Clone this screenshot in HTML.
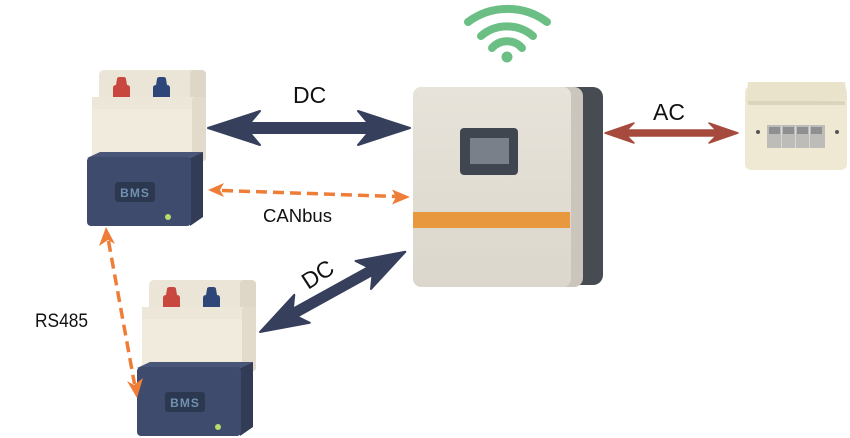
<!DOCTYPE html>
<html><head><meta charset="utf-8"><style>
html,body{margin:0;padding:0;background:#fff;}
svg{display:block;}
text{font-family:"Liberation Sans",sans-serif;}
</style></head><body>
<svg width="850" height="438" viewBox="0 0 850 438" xmlns="http://www.w3.org/2000/svg">
<defs>
  <linearGradient id="inv" x1="0" y1="0" x2="0" y2="1">
    <stop offset="0" stop-color="#e7e3da"/><stop offset="1" stop-color="#dcd7cc"/>
  </linearGradient>
  <g id="batt">
    <!-- top back block -->
    <rect x="99" y="70" width="107" height="34" rx="5" fill="#ebe5d7"/>
    <rect x="190" y="70" width="16" height="34" rx="4" fill="#ded7c8"/>
    <!-- terminals -->
    <path d="M113,97 L113,88 Q113,85 116,85 L117,79 Q117,77 120,77 L123,77 Q126,77 126,79 L127,85 Q130,85 130,88 L130,97 Z" fill="#c8473e"/>
    <path d="M153,97 L153,88 Q153,85 156,85 L157,79 Q157,77 160,77 L163,77 Q166,77 166,79 L167,85 Q170,85 170,88 L170,97 Z" fill="#2f4778"/>
    <!-- cream middle -->
    <rect x="92" y="97" width="114" height="64" rx="4" fill="#f1ebde"/>
    <rect x="192" y="97" width="14" height="64" rx="3" fill="#e2dbcc"/>
    <rect x="92" y="97" width="100" height="12" fill="#ede7d9"/>
    <!-- BMS block -->
    <polygon points="87,158 100,152 203,152 190,158" fill="#4a5677"/>
    <polygon points="190,158 203,152 203,217 190,226" fill="#323c57"/>
    <rect x="87" y="157" width="104" height="69" rx="4" fill="#3f4b6c"/>
    <rect x="115" y="182" width="40" height="20" rx="3" fill="#2c3750"/>
    <text x="135" y="197" text-anchor="middle" font-size="12" font-weight="bold" fill="#7091b0" letter-spacing="1">BMS</text>
    <circle cx="168" cy="217" r="3" fill="#b9da6c"/>
  </g>
</defs>

<!-- batteries -->
<use href="#batt"/>
<use href="#batt" transform="translate(50,210)"/>

<!-- wifi -->
<g fill="none" stroke="#6cbf84" stroke-width="8" stroke-linecap="round">
  <path d="M468,22 A66,66 0 0,1 547,22"/>
  <path d="M481,36 A40,40 0 0,1 533,36"/>
  <path d="M492,48 A20,20 0 0,1 522,48"/>
</g>
<circle cx="507" cy="57" r="5.5" fill="#6cbf84"/>

<!-- inverter -->
<rect x="560" y="87" width="43" height="198" rx="10" fill="#474c53"/>
<rect x="413" y="87" width="170" height="200" rx="9" fill="#cbc6bb"/>
<rect x="413" y="87" width="158" height="200" rx="8" fill="url(#inv)"/>
<rect x="460" y="128" width="58" height="47" rx="4" fill="#40464f"/>
<rect x="470" y="138" width="39" height="26" fill="#7a8089"/>
<rect x="413" y="212" width="157" height="16" fill="#e8983e"/>

<!-- breaker box -->
<rect x="745" y="86" width="102" height="84" rx="6" fill="#efe9d4"/>
<path d="M748,82 L845,82 L847,100 L746,103 Z" fill="#e9e3cb"/>
<rect x="748" y="101" width="97" height="4" fill="#dcd5bd"/>
<rect x="767" y="125" width="58" height="23" fill="#bdbcb8"/>
<g fill="#8f8f91">
  <rect x="769" y="127" width="11" height="7"/>
  <rect x="783" y="127" width="11" height="7"/>
  <rect x="797" y="127" width="11" height="7"/>
  <rect x="811" y="127" width="11" height="7"/>
</g>
<g stroke="#d8d7d2" stroke-width="1">
  <line x1="781.5" y1="125" x2="781.5" y2="148"/>
  <line x1="795.5" y1="125" x2="795.5" y2="148"/>
  <line x1="809.5" y1="125" x2="809.5" y2="148"/>
</g>
<circle cx="758" cy="132" r="2" fill="#555"/>
<circle cx="837" cy="132" r="2" fill="#555"/>

<!-- DC top arrow -->
<polygon points="208,128 260,111 250,123 368,123 358,111 410,128 358,145 368,133 250,133 260,145" fill="#363f5c" stroke="#363f5c" stroke-width="2" stroke-linejoin="round"/>
<text x="293" y="103" font-size="23" fill="#111">DC</text>

<!-- AC arrow -->
<polygon points="605,133 634,123 627,130 716,130 709,123 738,133 709,143 716,136 627,136 634,143" fill="#a64a3e" stroke="#a64a3e" stroke-width="1.5" stroke-linejoin="round"/>
<text x="653" y="120" font-size="23" fill="#111">AC</text>

<!-- diagonal DC arrow -->
<g transform="translate(260,332) rotate(-28.9)">
  <polygon points="0,0 48,-16 40,-4.5 126,-4.5 118,-16 166,0 118,16 126,4.5 40,4.5 48,16" fill="#363f5c" stroke="#363f5c" stroke-width="2" stroke-linejoin="round"/>
</g>
<text x="0" y="0" font-size="23" fill="#111" text-anchor="middle" transform="translate(322,281) rotate(-33)">DC</text>

<!-- CANbus -->
<line x1="222" y1="190.5" x2="396" y2="196.5" stroke="#ee7d38" stroke-width="3.5" stroke-dasharray="11 6"/>
<polygon points="208,190 224,183 220,190 224,197" fill="#ee7d38"/>
<polygon points="410,197 392,189.5 396,197 392,204.5" fill="#ee7d38"/>
<text x="263" y="222" font-size="18" fill="#111" textLength="69" lengthAdjust="spacingAndGlyphs">CANbus</text>

<!-- RS485 -->
<line x1="108.5" y1="241" x2="134.5" y2="384" stroke="#ee7d38" stroke-width="3.5" stroke-dasharray="11 6"/>
<polygon points="106,227 115,244 108,240 99,246" fill="#ee7d38"/>
<polygon points="137,398 127,381 134,385 143,378" fill="#ee7d38"/>
<text x="35" y="327" font-size="19" fill="#111" textLength="53" lengthAdjust="spacingAndGlyphs">RS485</text>
</svg>
</body></html>
